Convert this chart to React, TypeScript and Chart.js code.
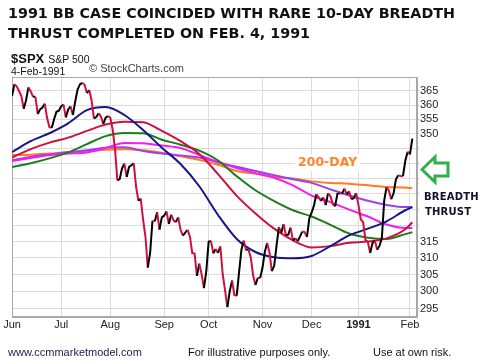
import React, { useEffect, useRef } from 'react';
import { Chart, registerables } from 'chart.js';

Chart.register(...registerables);

// ---- data ----
const MONTH_TICKS = [0, 21, 42, 65, 84, 107, 128, 148, 170];
const MONTH_LABELS = ['Jun', 'Jul', 'Aug', 'Sep', 'Oct', 'Nov', 'Dec', '1991', 'Feb'];
const Y_TICKS = [295, 300, 305, 310, 315, 320, 325, 330, 335, 340, 345, 350, 355, 360, 365];
const HIDDEN_LABELS = [320, 325, 330, 335, 340, 345];

// $SPX daily close, 1-Jun-1990 .. 4-Feb-1991 (trading days)
const PRICE = [
  // Jun
  363.16, 367.4, 366.64, 364.96, 363.15, 358.71, 361.63, 366.25, 364.9, 362.9, 362.91,
  356.88, 358.47, 359.1, 360.47, 355.43, 352.31, 352.06, 355.14, 357.63, 358.02,
  // Jul
  359.54, 360.16, 355.68, 358.42, 359.52, 356.49, 361.23, 365.44, 367.31, 367.9, 367.2,
  364.22, 365.32, 361.61, 355.31, 355.79, 357.09, 355.91, 353.44, 355.55, 356.15,
  // Aug
  355.52, 351.48, 344.86, 334.43, 334.83, 338.35, 339.94, 335.52, 338.84, 339.39, 340.06,
  332.39, 327.83, 328.51, 321.86, 316.55, 307.06, 311.51, 321.44, 321.34, 324.19, 318.71, 322.56,
  // Sep
  323.09, 324.39, 320.46, 323.4, 321.63, 321.04, 322.54, 318.65, 316.83, 317.77, 318.6,
  316.6, 311.48, 311.32, 304.59, 308.26, 305.06, 300.97, 306.05,
  // Oct
  314.94, 315.21, 311.4, 312.69, 311.5, 313.48, 305.1, 300.39, 295.46, 300.03, 303.23,
  298.92, 298.76, 305.74, 312.48, 315.29, 312.36, 312.6, 310.17, 304.71, 301.88, 304.06, 304.0,
  // Nov
  307.02, 311.85, 314.59, 311.62, 306.01, 307.61, 313.74, 319.48, 317.67, 320.4, 317.02,
  317.12, 319.34, 315.31, 316.03, 315.1, 316.51, 318.1, 317.95, 316.42, 322.22,
  // Dec
  324.1, 326.35, 329.92, 328.89, 327.75, 328.89, 326.44, 330.2, 329.34, 326.82, 326.02,
  330.05, 330.2, 330.12, 331.75, 329.9, 330.85, 328.29, 328.72, 330.22,
  // Jan 1991
  326.45, 321.91, 321.0, 315.44, 314.9, 311.49, 314.53, 315.23, 312.49, 313.73, 316.17,
  327.97, 332.23, 331.06, 328.31, 330.21, 334.78, 336.07, 335.84, 335.8, 340.91, 343.93,
  // Feb
  343.05, 348.34,
];

// moving-average lines, sampled at these trading-day indices
const MA_DAYS = [0, 8, 16, 24, 32, 40, 48, 56, 64, 72, 80, 88, 96, 104, 112, 120, 128, 136, 144, 152, 160, 168, 171];
const MA_NAVY = [343.8, 347.5, 350.2, 353.6, 358.2, 359.3, 356.5, 351.3, 345.3, 339.8, 332.5, 323.3, 315.8, 311.8, 310.2, 309.9, 310.6, 313.6, 316.9, 319.0, 321.3, 324.8, 325.8];
const MA_CRIMSON = [342.0, 344.8, 347.0, 348.7, 351.0, 353.2, 354.2, 354.0, 351.0, 347.5, 343.2, 336.5, 329.4, 323.8, 319.0, 315.4, 313.2, 313.6, 314.6, 315.0, 316.0, 318.8, 321.0];
const MA_GREEN = [338.8, 340.1, 341.7, 343.7, 346.5, 349.2, 350.3, 350.2, 348.0, 346.3, 344.3, 341.0, 335.8, 331.2, 327.7, 324.8, 322.8, 320.2, 317.5, 316.2, 315.8, 317.3, 317.9];
const MA_MAGENTA = [340.8, 341.8, 342.7, 343.3, 343.7, 345.2, 346.9, 346.8, 346.0, 345.2, 342.8, 340.5, 338.5, 336.8, 335.3, 332.8, 329.5, 327.4, 325.0, 322.8, 320.3, 319.2, 319.2];
const MA_PURPLE = [341.1, 342.2, 343.0, 343.7, 344.4, 345.3, 345.4, 344.2, 343.3, 342.7, 342.0, 340.3, 338.9, 337.5, 336.1, 334.8, 333.6, 331.5, 329.5, 327.8, 326.5, 325.8, 325.8];
const MA_ORANGE_200 = [342.8, 342.9, 343.3, 343.8, 344.1, 344.6, 344.8, 344.4, 343.6, 342.4, 341.2, 339.6, 337.5, 336.6, 335.5, 335.0, 334.1, 333.6, 333.3, 332.8, 332.3, 332.1, 331.9];

const UP_COLOR = '#000000';
const DOWN_COLOR = '#d0103c';
const TICK_FONT = 'Liberation Sans, Arial, sans-serif';

function maSeries(values: number[], color: string) {
  return {
    data: MA_DAYS.map((d, k) => ({ x: d, y: values[k] })),
    borderColor: color,
    borderWidth: 2,
    pointRadius: 0,
    cubicInterpolationMode: 'monotone' as const,
    fill: false,
  };
}

const framePlugin = {
  id: 'frame',
  beforeDatasetsDraw(chart: any) {
    const { ctx, chartArea: a } = chart;
    ctx.save();
    ctx.strokeStyle = '#a8a8a8';
    ctx.lineWidth = 1;
    ctx.strokeRect(a.left + 0.5, a.top + 0.5, a.right - a.left - 1, a.bottom - a.top - 1);
    ctx.restore();
  },
};

function SpxChart() {
  const ref = useRef<HTMLCanvasElement | null>(null);
  useEffect(() => {
    if (!ref.current) return;
    const chart = new Chart(ref.current, {
      type: 'line',
      data: {
        datasets: [
          {
            data: PRICE.map((v, i) => ({ x: i, y: v })),
            borderColor: UP_COLOR,
            borderWidth: 2,
            pointRadius: 0,
            tension: 0,
            fill: false,
            segment: {
              borderColor: (c: any) => (c.p1.parsed.y >= c.p0.parsed.y ? UP_COLOR : DOWN_COLOR),
            },
          } as any,
          maSeries(MA_NAVY, '#15158c'),
          maSeries(MA_CRIMSON, '#d0103c'),
          maSeries(MA_GREEN, '#1d7a1d'),
          maSeries(MA_MAGENTA, '#f21ef2'),
          maSeries(MA_PURPLE, '#9a40ee'),
          maSeries(MA_ORANGE_200, '#ff7a1a'),
        ],
      },
      options: {
        responsive: false,
        animation: false,
        devicePixelRatio: 1,
        events: [],
        layout: { padding: { left: 12, top: 77, right: 0, bottom: 0 } },
        plugins: { legend: { display: false }, tooltip: { enabled: false } },
        scales: {
          x: {
            type: 'linear',
            min: 0,
            max: 173,
            afterBuildTicks: (s: any) => {
              s.ticks = MONTH_TICKS.map((v) => ({ value: v }));
            },
            afterFit: (s: any) => {
              s.height = 47;
            },
            grid: { color: '#dcdcdc', drawTicks: false },
            border: { color: '#a8a8a8' },
            ticks: {
              autoSkip: false,
              maxRotation: 0,
              padding: 1,
              color: '#222',
              font: (c: any) => ({ family: TICK_FONT, size: 11, weight: c.index === 7 ? 'bold' : 'normal' }),
              callback: (v: any) => {
                const i = MONTH_TICKS.indexOf(Number(v));
                return i >= 0 ? MONTH_LABELS[i] : '';
              },
            },
          },
          y: {
            type: 'logarithmic',
            position: 'right',
            min: 292.6,
            max: 370,
            afterBuildTicks: (s: any) => {
              s.ticks = Y_TICKS.map((v) => ({ value: v }));
            },
            afterFit: (s: any) => {
              s.width = 68;
            },
            grid: { color: '#dcdcdc', drawTicks: true, tickLength: 2, tickColor: '#bbbbbb' },
            border: { color: '#a8a8a8' },
            ticks: {
              padding: 1,
              color: '#222',
              font: { family: TICK_FONT, size: 11 },
              callback: (v: any) => (HIDDEN_LABELS.includes(Number(v)) ? '' : String(v)),
            },
          },
        },
      } as any,
      plugins: [framePlugin],
    });
    return () => chart.destroy();
  }, []);
  return <canvas ref={ref} width={485} height={364} style={{ display: 'block', position: 'absolute', left: 0, top: 0 }} />;
}

const abs = (left: number, top: number, extra: React.CSSProperties = {}): React.CSSProperties => ({
  position: 'absolute',
  left,
  top,
  whiteSpace: 'nowrap',
  lineHeight: 1,
  ...extra,
});

export default function App() {
  return (
    <div style={{ position: 'fixed', left: 0, top: 0, width: 485, height: 364, background: '#fff', overflow: 'hidden' }}>
      <SpxChart />
      <div style={abs(8, 4, { fontFamily: 'DejaVu Sans, sans-serif', fontWeight: 'bold', fontSize: 14.3, lineHeight: '19.5px', color: '#111' })}>
        1991 BB CASE COINCIDED WITH RARE 10-DAY BREADTH
        <br />
        THRUST COMPLETED ON FEB. 4, 1991
      </div>
      <div style={abs(11, 50, { fontFamily: TICK_FONT, color: '#111' })}>
        <span style={{ fontWeight: 'bold', fontSize: 13 }}>$SPX</span>
        <span style={{ fontSize: 10.5, marginLeft: 4 }}>S&amp;P 500</span>
      </div>
      <div style={abs(11, 65.5, { fontFamily: TICK_FONT, fontSize: 10.5, color: '#111' })}>4-Feb-1991</div>
      <div style={abs(89, 62.5, { fontFamily: TICK_FONT, fontSize: 11, color: '#444' })}>© StockCharts.com</div>
      <div style={abs(295, 154.4, { fontFamily: 'DejaVu Sans, sans-serif', fontWeight: 'bold', fontSize: 12.5, color: '#ff8533', background: '#fff', padding: '2px 3px' })}>
        200-DAY
      </div>
      <svg width={36} height={36} style={{ position: 'absolute', left: 418, top: 152 }}>
        <polygon points="4,17.5 17,5 17,11 30,11 30,24 17,24 17,30" fill="#fff" stroke="#2fb04a" strokeWidth={3} strokeLinejoin="miter" />
      </svg>
      <div style={abs(424, 191.5, { fontFamily: 'DejaVu Sans, sans-serif', fontWeight: 'bold', fontSize: 10, color: '#101030', letterSpacing: 0.2 })}>BREADTH</div>
      <div style={abs(425, 206.5, { fontFamily: 'DejaVu Sans, sans-serif', fontWeight: 'bold', fontSize: 10, color: '#101030', letterSpacing: 0.2 })}>THRUST</div>
      <div style={abs(8, 346.7, { fontFamily: TICK_FONT, fontSize: 11, color: '#1c1c4a' })}>www.ccmmarketmodel.com</div>
      <div style={abs(188, 346.7, { fontFamily: TICK_FONT, fontSize: 11, color: '#111' })}>For illustrative purposes only.</div>
      <div style={abs(373, 346.7, { fontFamily: TICK_FONT, fontSize: 11, color: '#111' })}>Use at own risk.</div>
    </div>
  );
}
